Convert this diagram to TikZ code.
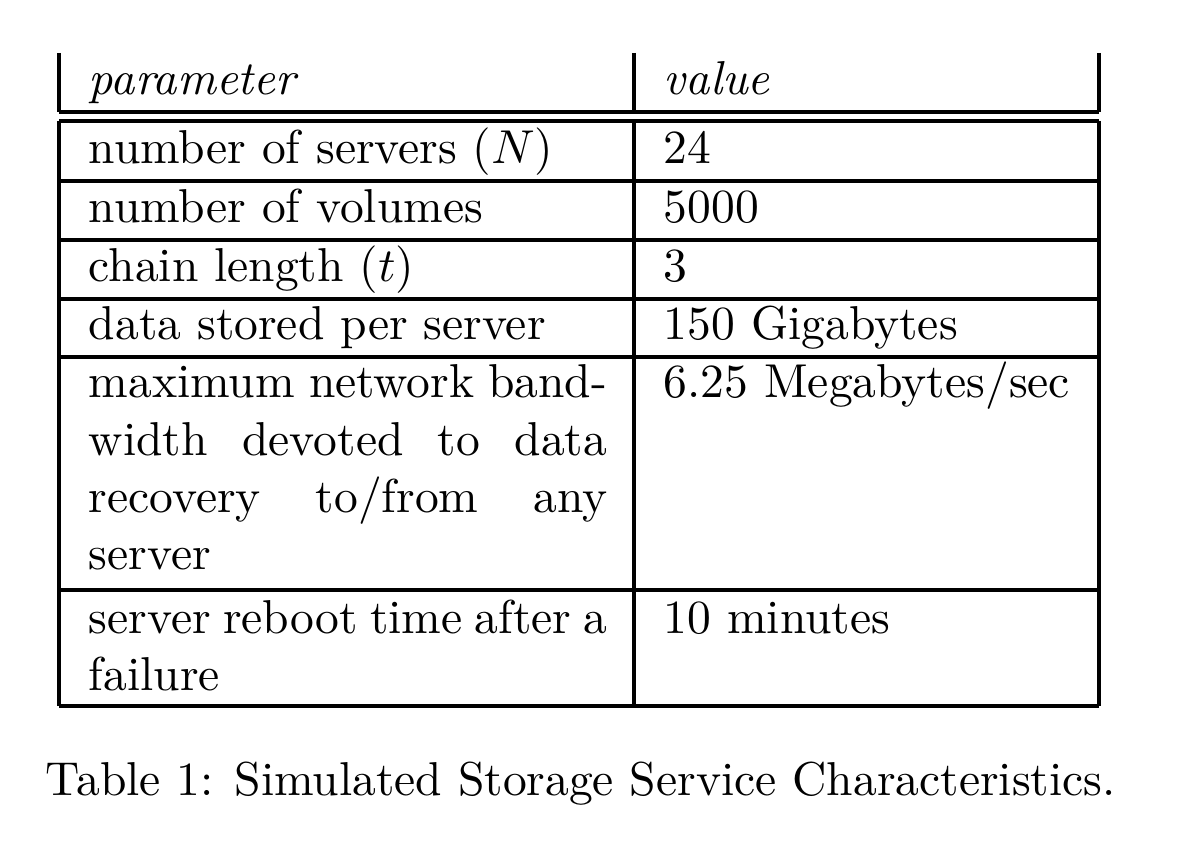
\documentclass[tikz,border=0pt]{standalone}
\usepackage{amsmath}
\usepackage{tikz}
\tikzset{
  cell/.style={anchor=base west, inner sep=0pt},
  para/.style={cell, text width=109pt, align=justify},
  rule/.style={line width=0.8pt}
}
\begin{document}
\begin{tikzpicture}[x=0.2103pt, y=-0.2103pt]
  \useasboundingbox (0,0) rectangle (1178,852);

  % vertical rules, broken at the double rule
  \foreach \x in {59, 634, 1099} {
    \draw[rule] (\x, 53) -- (\x, 112);
    \draw[rule] (\x, 121) -- (\x, 706);
  }
  % horizontal rules
  \foreach \y in {112, 121, 181, 240, 299, 357, 590, 706} {
    \draw[rule] (59, \y) -- (1099, \y);
  }

  % header
  \node[cell] (hdpar) at (88, 95) {\textit{parameter}};
  \node[cell] (hdval) at (663, 95) {\textit{value}};

  % rows
  \node[cell] (servp) at (88, 164) {number of servers ($N$)};
  \node[cell] (servv) at (663, 164) {24};
  \node[cell] (volp) at (88, 223) {number of volumes};
  \node[cell] (volv) at (663, 223) {5000};
  \node[cell] (chainp) at (88, 282) {chain length ($t$)};
  \node[cell] (chainv) at (663, 282) {3};
  \node[cell] (datap) at (88, 340) {data stored per server};
  \node[cell] (datav) at (663, 340) {150 Gigabytes};
  \node[para] (bwp) at (88, 398) {maximum network band\-width devoted to data recovery to/from any server};
  \node[cell] (bwv) at (663, 398) {6.25 Megabytes/sec};
  \node[para] (rebootp) at (88, 633) {server reboot time after a failure};
  \node[cell] (rebootv) at (663, 633) {10 minutes};

  % caption
  \node[cell] (caption) at (45, 795) {Table 1: Simulated Storage Service Characteristics.};
\end{tikzpicture}
\end{document}
